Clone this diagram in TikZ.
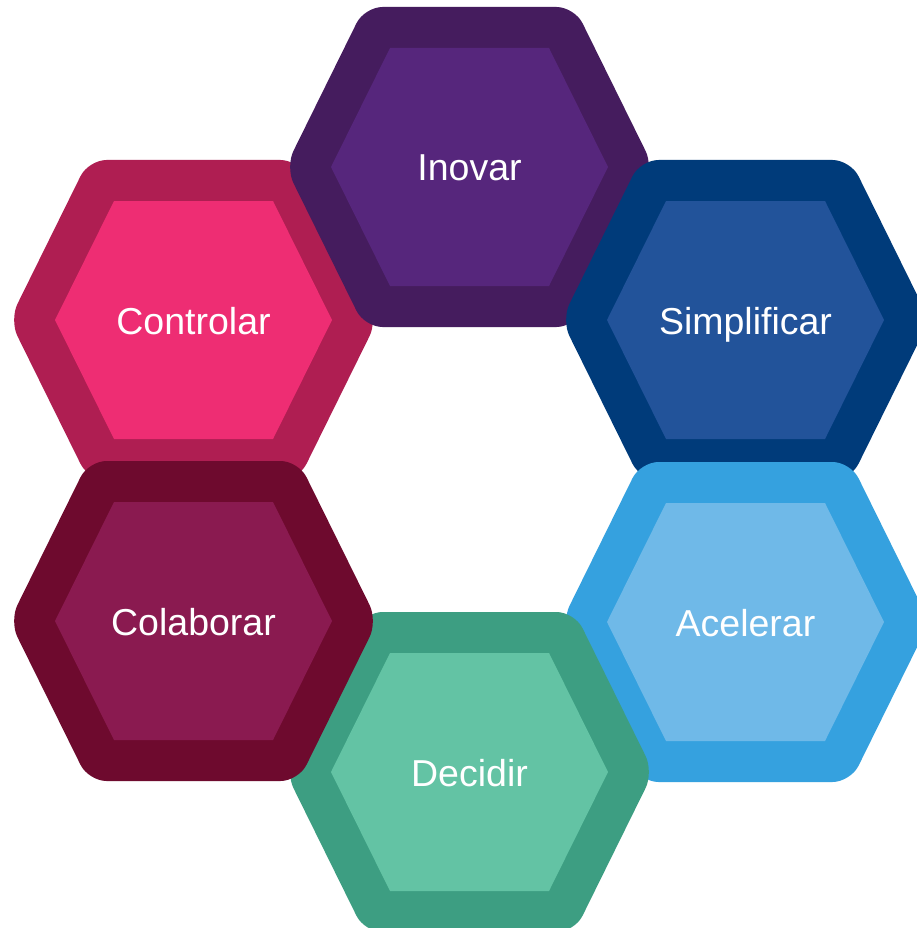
\documentclass[tikz,border=0pt]{standalone}
\usepackage{fontspec}
\setmainfont{Liberation Sans}
\definecolor{inoO}{RGB}{69,28,94}
\definecolor{inoI}{RGB}{86,38,124}
\definecolor{conO}{RGB}{175,30,82}
\definecolor{conI}{RGB}{238,45,115}
\definecolor{simO}{RGB}{0,59,122}
\definecolor{simI}{RGB}{34,83,154}
\definecolor{aceO}{RGB}{53,161,223}
\definecolor{aceI}{RGB}{111,185,232}
\definecolor{decO}{RGB}{61,158,130}
\definecolor{decI}{RGB}{99,195,164}
\definecolor{colO}{RGB}{110,10,46}
\definecolor{colI}{RGB}{138,26,80}
\newcommand\hexcell[6]{%
  \begin{scope}[shift={(#2,#3)}]
    \fill[#4, rounded corners=18pt] (0,-160) -- (105,-160) -- (184,0) -- (105,160) -- (-105,160) -- (-184,0) -- (-105,-160) -- cycle;
    \fill[#5] (-79.5,-119) -- (79.5,-119) -- (138.5,0) -- (79.5,119) -- (-79.5,119) -- (-138.5,0) -- cycle;
    \node[hexlabel] (#1) at (0,14) {#6};
  \end{scope}}
\begin{document}
\begin{tikzpicture}[x=1pt,y=-1pt,
  hexlabel/.style={text=white, font=\fontsize{37.5}{40}\selectfont, inner sep=0pt, anchor=base}]
\useasboundingbox (0,0) rectangle (917,928);
\fill[white] (0,0) rectangle (917,928);
\hexcell{controlar}{193.5}{320}{conO}{conI}{Controlar}
\hexcell{inovar}{469.5}{167}{inoO}{inoI}{Inovar}
\hexcell{simplificar}{745.5}{320}{simO}{simI}{Simplificar}
\hexcell{acelerar}{745.5}{622}{aceO}{aceI}{Acelerar}
\hexcell{decidir}{469.5}{772}{decO}{decI}{Decidir}
\hexcell{colaborar}{193.5}{621}{colO}{colI}{Colaborar}
\end{tikzpicture}
\end{document}
